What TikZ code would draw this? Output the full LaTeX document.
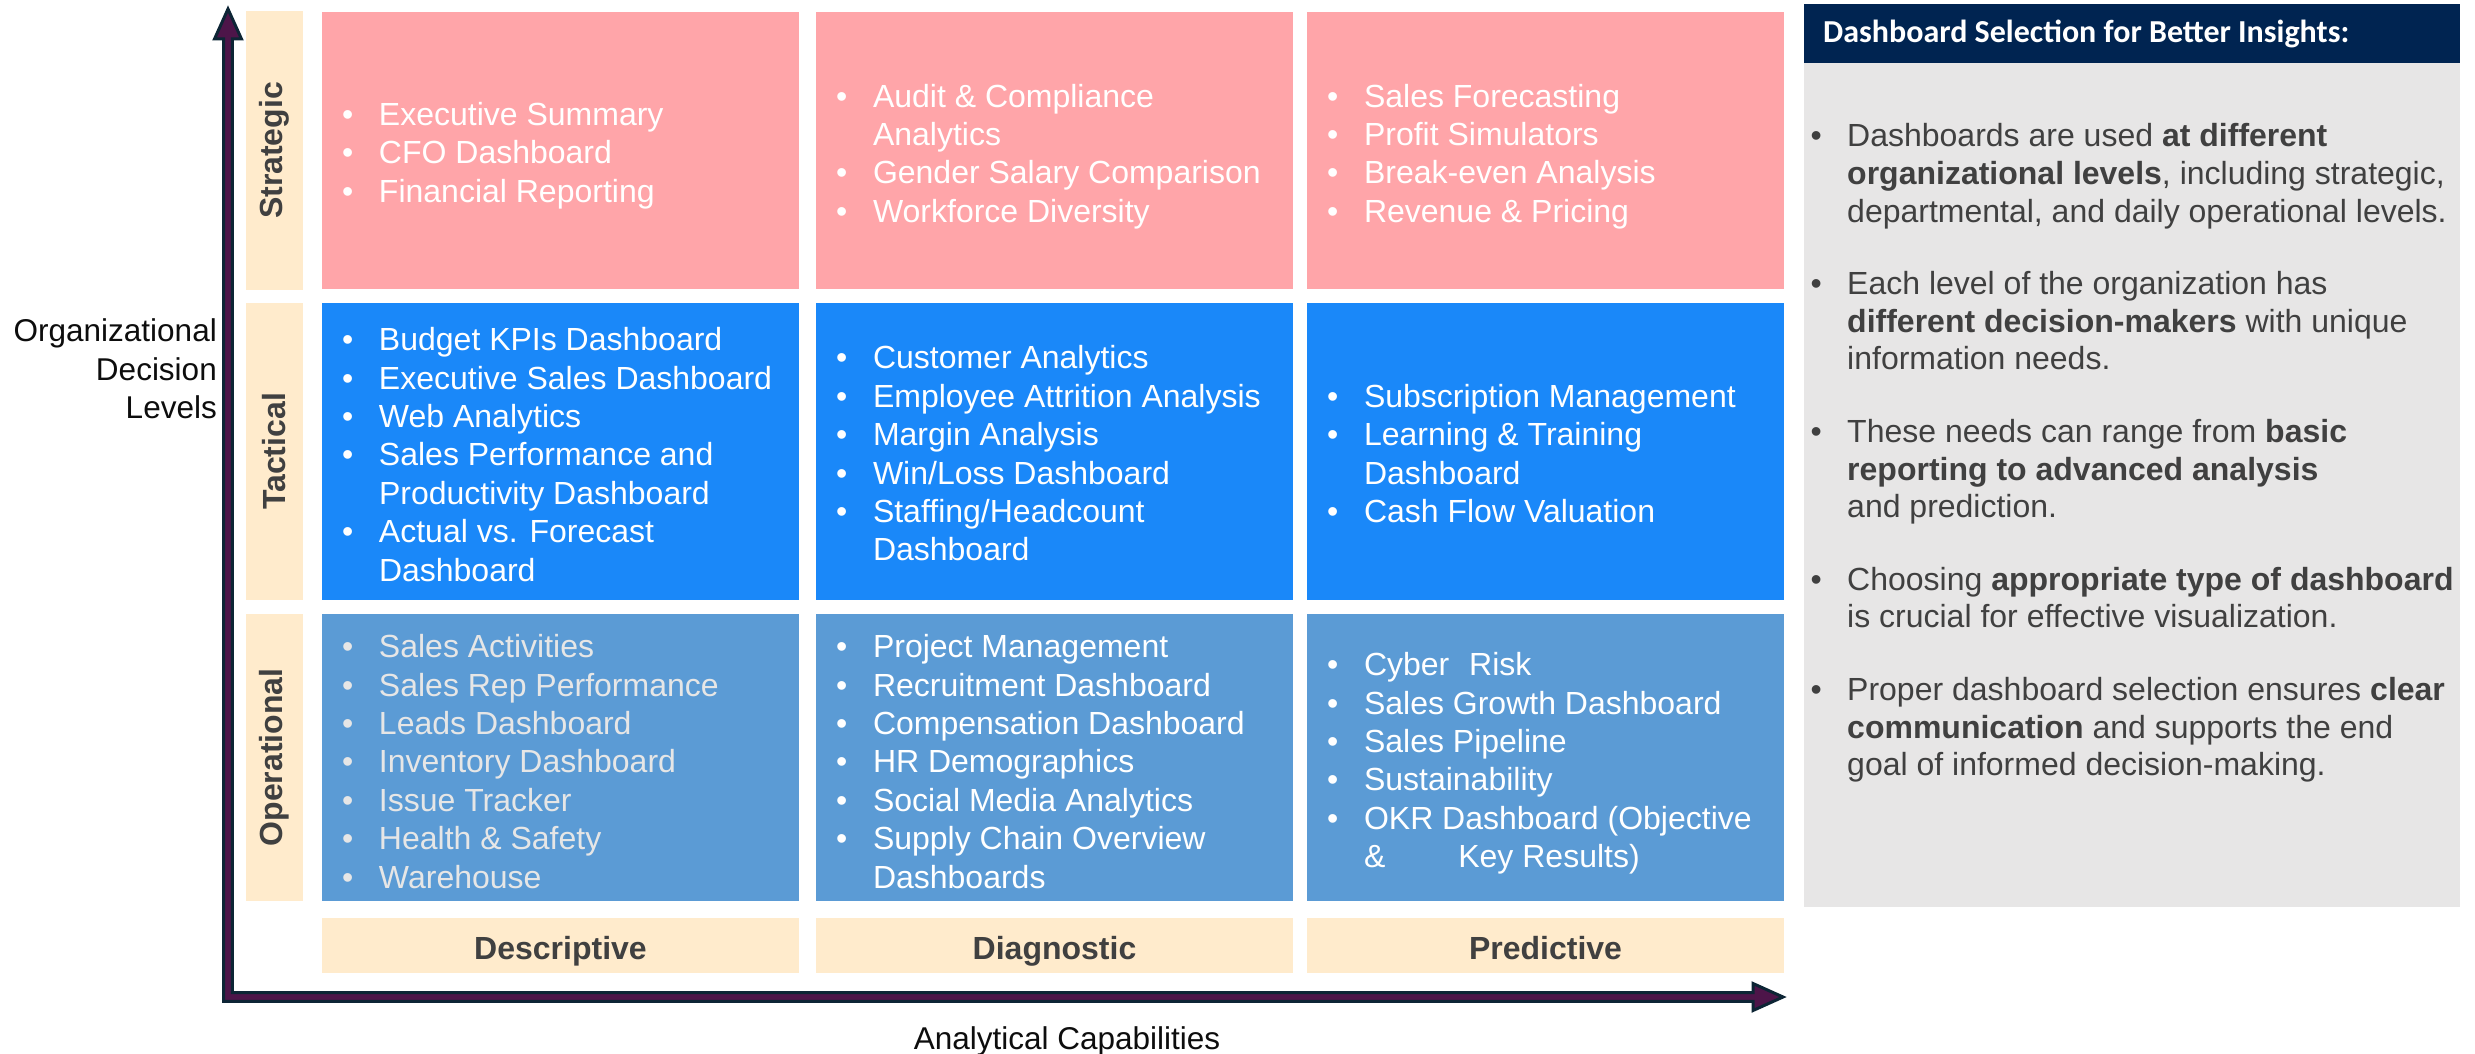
\documentclass[tikz,border=0pt]{standalone}
\usepackage{fontspec}
\setmainfont{Liberation Sans}
\newfontfamily\carlito{Carlito}
\usetikzlibrary{calc}
\definecolor{pinkc}{HTML}{FFA5A9}
\definecolor{tacc}{HTML}{1A88F9}
\definecolor{opc}{HTML}{5B9BD5}
\definecolor{creamc}{HTML}{FFEBCC}
\definecolor{navyc}{HTML}{002451}
\definecolor{greyc}{HTML}{E7E6E6}
\definecolor{txtc}{HTML}{404040}
\definecolor{arrowout}{HTML}{0D2535}
\definecolor{arrowin}{HTML}{4D1549}
\definecolor{lightt}{HTML}{E6E6E6}
\newcommand\bl{\makebox[37pt][l]{\textbullet}}
\newcommand\ct{\hspace*{37pt}}
\newcommand\rbl{\makebox[36.5pt][l]{\textbullet}}
\newcommand\rct{\hspace*{36.5pt}}
\tikzset{
  cellbox/.style={rectangle, inner sep=0, draw=none, minimum width=477pt},
  celltext/.style={anchor=west, align=left, inner sep=0, font=\fontsize{32}{38.4}\selectfont, text=white},
  lvlbox/.style={rectangle, inner sep=0, draw=none, fill=creamc, minimum width=57pt},
  lvltext/.style={font=\fontsize{32}{38}\selectfont\bfseries, text=txtc},
  axisarrow/.style={draw=arrowout, fill=arrowin, line width=3pt, line join=miter},
  axislabel/.style={font=\fontsize{31.5}{38.5}\selectfont, text=black!95}
}
\begin{document}
\begin{tikzpicture}[x=1pt,y=-1pt]
\useasboundingbox (0,0) rectangle (2475,1054);
\fill[white] (0,0) rectangle (2475,1054);

% level strips
\node[lvlbox, minimum height=279pt] (Ls) at (274.5,150.5) {};
\node[lvlbox, minimum height=297pt] (Lt) at (274.5,451.5) {};
\node[lvlbox, minimum height=287pt] (Lo) at (274.5,757.5) {};
\node[lvltext, rotate=90] (Lst) at (Ls.center) {Strategic};
\node[lvltext, rotate=90] (Ltt) at (Lt.center) {Tactical};
\node[lvltext, rotate=90] (Lot) at (Lo.center) {Operational};

% strategic row
\node[cellbox, fill=pinkc, minimum height=277pt] (s1) at (560.5,150.5) {};
\node[cellbox, fill=pinkc, minimum height=277pt] (s2) at (1054.5,150.5) {};
\node[cellbox, fill=pinkc, minimum height=277pt] (s3) at (1545.5,150.5) {};
\node[celltext] (s1t) at ($(s1.west)+(20,5)$) {\bl Executive Summary\\\bl CFO Dashboard\\\bl Financial Reporting};
\node[celltext] (s2t) at ($(s2.west)+(20,6)$) {\bl Audit \& Compliance\\\ct Analytics\\\bl Gender Salary Comparison\\\bl Workforce Diversity};
\node[celltext] (s3t) at ($(s3.west)+(20,6)$) {\bl Sales Forecasting\\\bl Profit Simulators\\\bl Break-even Analysis\\\bl Revenue \& Pricing};

% tactical row
\node[cellbox, fill=tacc, minimum height=297pt] (t1) at (560.5,451.5) {};
\node[cellbox, fill=tacc, minimum height=297pt] (t2) at (1054.5,451.5) {};
\node[cellbox, fill=tacc, minimum height=297pt] (t3) at (1545.5,451.5) {};
\node[celltext] (t1t) at ($(t1.west)+(20,3)$) {\bl Budget KPIs Dashboard\\\bl Executive Sales Dashboard\\\bl Web Analytics\\\bl Sales Performance and\\\ct Productivity Dashboard\\\bl Actual vs. Forecast\\\ct Dashboard};
\node[celltext] (t2t) at ($(t2.west)+(20,2)$) {\bl Customer Analytics\\\bl Employee Attrition Analysis\\\bl Margin Analysis\\\bl Win/Loss Dashboard\\\bl Staffing/Headcount\\\ct Dashboard};
\node[celltext] (t3t) at ($(t3.west)+(20,2)$) {\bl Subscription Management\\\bl Learning \& Training\\\ct Dashboard\\\bl Cash Flow Valuation};

% operational row
\node[cellbox, fill=opc, minimum height=287pt] (o1) at (560.5,757.5) {};
\node[cellbox, fill=opc, minimum height=287pt] (o2) at (1054.5,757.5) {};
\node[cellbox, fill=opc, minimum height=287pt] (o3) at (1545.5,757.5) {};
\node[celltext, text=lightt] (o1t) at ($(o1.west)+(20,4)$) {\bl Sales Activities\\\bl Sales Rep Performance\\\bl Leads Dashboard\\\bl Inventory Dashboard\\\bl Issue Tracker\\\bl Health \& Safety\\\bl Warehouse};
\node[celltext] (o2t) at ($(o2.west)+(20,4)$) {\bl Project Management\\\bl Recruitment Dashboard\\\bl Compensation Dashboard\\\bl HR Demographics\\\bl Social Media Analytics\\\bl Supply Chain Overview\\\ct Dashboards};
\node[celltext] (o3t) at ($(o3.west)+(20,6)$) {\bl Cyber\hspace{11pt} Risk\\\bl Sales Growth Dashboard\\\bl Sales Pipeline\\\bl Sustainability\\\bl OKR Dashboard (Objective\\\ct\&\hspace{73pt}Key Results)};

% analytics labels
\node[lvlbox, minimum width=477pt, minimum height=55pt] (a1) at (560.5,945.5) {};
\node[lvlbox, minimum width=477pt, minimum height=55pt] (a2) at (1054.5,945.5) {};
\node[lvlbox, minimum width=477pt, minimum height=55pt] (a3) at (1545.5,945.5) {};
\node[lvltext, anchor=base] (a1t) at ($(a1.center)+(0,14)$) {Descriptive};
\node[lvltext, anchor=base] (a2t) at ($(a2.center)+(0,14)$) {Diagnostic};
\node[lvltext, anchor=base] (a3t) at ($(a3.center)+(0,14)$) {Predictive};

% axes
\coordinate (O) at (228,997);
\coordinate (Ytip) at (228,9);
\coordinate (Xtip) at (1783,997);
\filldraw[axisarrow] (Ytip) -- ++(13.5,30) -- ++(-9.2,0) |- ($(Xtip)+(-30,-4.3)$) -- ++(0,-9.2) -- (Xtip) -- ++(-30,13.5) -- ++(0,-9.2) -| ($(Ytip)+(-4.3,30)$) -- ++(-9.2,0) -- cycle;

\node[axislabel, anchor=east, align=right, inner sep=0] (ylab) at (217,369) {Organizational\\Decision\\Levels};
\node[axislabel, inner sep=0] (xlab) at (1067,1041) {Analytical Capabilities};

% right panel
\node[rectangle, inner sep=0, fill=navyc, minimum width=656pt, minimum height=59pt] (hdr) at (2132,33.5) {};
\node[rectangle, inner sep=0, fill=greyc, minimum width=656pt, minimum height=844pt] (panel) at (2132,485) {};
\node[anchor=west, inner sep=0, text=white, font=\carlito\bfseries\fontsize{32}{38}\selectfont] (hdrt) at (1823,34) {Dashboard Selection for Better Insights:};
\node[anchor=west, align=left, inner sep=0, text=txtc, font=\fontsize{32}{37.6}\selectfont] (pant) at (1810.5,453) {%
\rbl Dashboards are used \textbf{at different}\\
\rct\textbf{organizational levels}, including strategic,\\
\rct departmental, and daily operational levels.\\[35pt]
\rbl Each level of the organization has\\
\rct\textbf{different decision-makers} with unique\\
\rct information needs.\\[35pt]
\rbl These needs can range from \textbf{basic}\\
\rct\textbf{reporting to advanced analysis}\\
\rct and prediction.\\[35pt]
\rbl Choosing \textbf{appropriate type of dashboard}\\
\rct is crucial for effective visualization.\\[35pt]
\rbl Proper dashboard selection ensures \textbf{clear}\\
\rct\textbf{communication} and supports the end\\
\rct goal of informed decision-making.};
\end{tikzpicture}
\end{document}
